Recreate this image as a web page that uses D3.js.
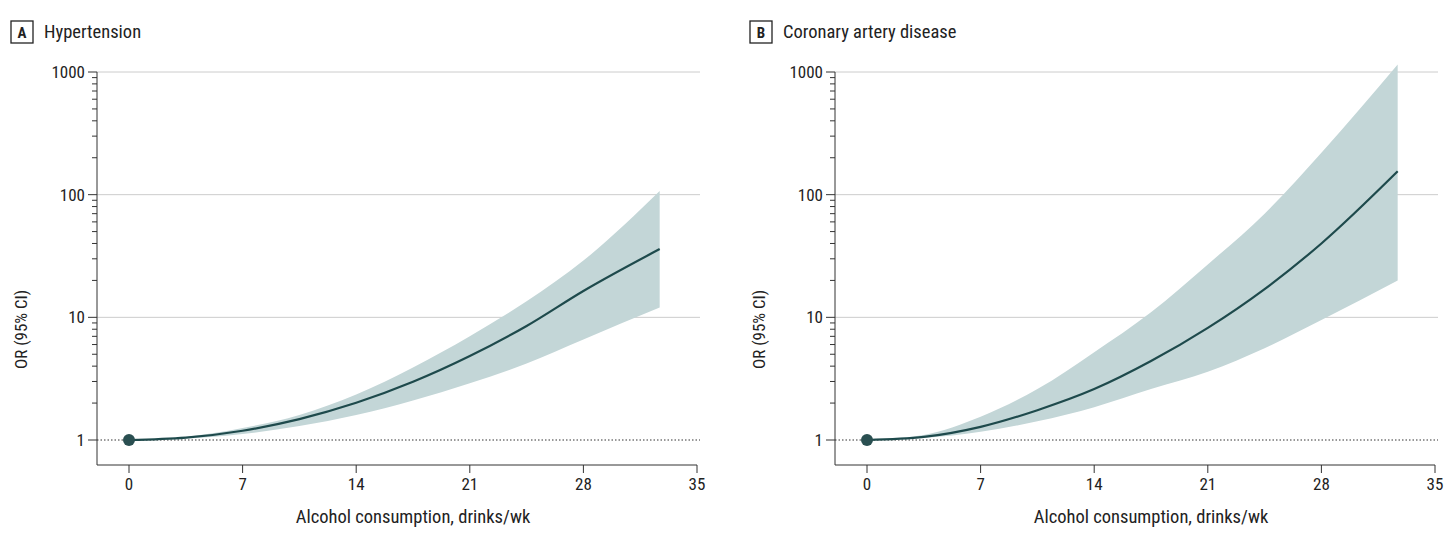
<!DOCTYPE html><html><head><meta charset="utf-8">
<script src="https://cdn.jsdelivr.net/npm/d3@7"></script>
<style>body{margin:0;background:#fff}text{font-family:"Liberation Sans Narrow","Roboto Condensed",Roboto,sans-serif;fill:#222}</style>
</head><body><svg id="c" width="1456" height="542"></svg>
<script>
const xs=[0,3.5,7,10.5,14,17.5,21,24.5,28,32.7];
const hypMid=[1,1.045,1.19,1.48,2.01,2.98,4.83,8.5,16.4,36];
const hypLo=[1,1.03,1.12,1.3,1.6,2.1,2.9,4.2,6.6,12];
const hypHi=[1,1.06,1.25,1.6,2.35,3.9,7,13.5,29,107];
const cadMid=[1,1.06,1.28,1.75,2.6,4.4,8.2,17,40,155];
const cadLo=[1,1.04,1.17,1.42,1.85,2.6,3.6,5.6,9.5,20];
const cadHi=[1,1.1,1.55,2.6,5.2,11,27,70,220,1150];
const yTicks=[1,10,100,1000];
const xTicks=[0,7,14,21,28,35];
const panels=[{letter:"A",title:"Hypertension",x0:97,mid:hypMid,lo:hypLo,hi:hypHi},
{letter:"B",title:"Coronary artery disease",x0:835,mid:cadMid,lo:cadLo,hi:cadHi}];
const svg=d3.select("#c");
panels.forEach(p=>{
 const g=svg.append("g");
 const x=d3.scaleLinear().domain([0,35]).range([p.x0+32,p.x0+600]);
 const y=d3.scaleLog().domain([1,1000]).range([440,72]);
 const gridR=p.x0===97?700:1438;
 yTicks.slice(1).forEach(t=>g.append("line").attr("x1",p.x0).attr("x2",gridR).attr("y1",y(t)).attr("y2",y(t)).attr("stroke","#ccc").attr("stroke-width",1));
 g.append("line").attr("x1",p.x0).attr("x2",gridR).attr("y1",y(1)).attr("y2",y(1)).attr("stroke","#333").attr("stroke-dasharray","1.5,2");
 const pts=xs.map((v,i)=>({x:v,m:p.mid[i],l:p.lo[i],h:p.hi[i]}));
 g.append("path").attr("d",d3.area().x(d=>x(d.x)).y0(d=>y(d.l)).y1(d=>y(d.h)).curve(d3.curveMonotoneX)(pts)).attr("fill","#c3d6d7");
 g.append("path").attr("d",d3.line().x(d=>x(d.x)).y(d=>y(d.m)).curve(d3.curveMonotoneX)(pts)).attr("fill","none").attr("stroke","#1e4a4c").attr("stroke-width",2.2);
 g.append("circle").attr("cx",x(0)).attr("cy",y(1)).attr("r",6).attr("fill","#2a4f51");
 g.append("line").attr("x1",p.x0).attr("x2",p.x0).attr("y1",72).attr("y2",465).attr("stroke","#333");
 for(let d=1;d<1000;d*=10)for(let k=2;k<10;k++)g.append("line").attr("x1",p.x0-5).attr("x2",p.x0).attr("y1",y(d*k)).attr("y2",y(d*k)).attr("stroke","#333");
 yTicks.forEach(t=>{g.append("line").attr("x1",p.x0-9).attr("x2",p.x0).attr("y1",y(t)).attr("y2",y(t)).attr("stroke","#333");
  g.append("text").attr("x",p.x0-12).attr("y",y(t)).attr("dy","0.35em").attr("text-anchor","end").attr("font-size",17).text(t);});
 g.append("text").attr("transform",`translate(${p.x0-70},${y(10)+12}) rotate(-90)`).attr("text-anchor","middle").attr("font-size",17).text("OR (95% CI)");
 g.append("line").attr("x1",p.x0).attr("x2",x(35)).attr("y1",465).attr("y2",465).attr("stroke","#333");
 xTicks.forEach(t=>{g.append("line").attr("x1",x(t)).attr("x2",x(t)).attr("y1",465).attr("y2",473).attr("stroke","#333");
  g.append("text").attr("x",x(t)).attr("y",490).attr("text-anchor","middle").attr("font-size",17).text(t);});
 g.append("text").attr("x",(x(0)+x(35))/2).attr("y",523).attr("text-anchor","middle").attr("font-size",18.5).text("Alcohol consumption, drinks/wk");
 const bx=p.x0===97?11:750;
 g.append("rect").attr("x",bx).attr("y",21).attr("width",22).attr("height",22).attr("fill","none").attr("stroke","#222").attr("stroke-width",1.3);
 g.append("text").attr("x",bx+11).attr("y",38).attr("text-anchor","middle").attr("font-size",15).attr("font-weight","bold").text(p.letter);
 g.append("text").attr("x",bx+33).attr("y",38).attr("font-size",18.5).text(p.title);
});
</script></body></html>
